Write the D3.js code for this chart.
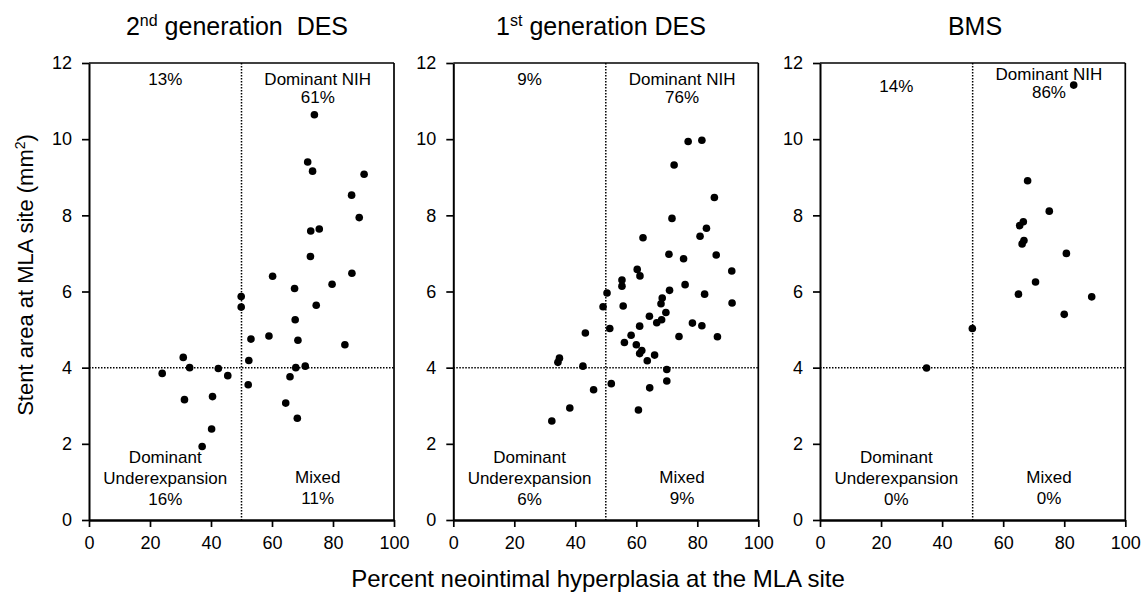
<!DOCTYPE html>
<html>
<head>
<meta charset="utf-8">
<script src="https://cdn.jsdelivr.net/npm/d3@7/dist/d3.min.js"></script>
<style>
  html, body { margin: 0; padding: 0; background: #fff; }
  svg { display: block; font-family: Arial, "Liberation Sans", sans-serif; }
  text { fill: #000; }
</style>
</head>
<body>
<svg id="chart" width="1146" height="598"></svg>
<script>
// ---------- data ----------
const xTicks = [0, 20, 40, 60, 80, 100];
const yTicks = [0, 2, 4, 6, 8, 10, 12];

const titles = [["2", "nd", " generation  DES"], ["1", "st", " generation DES"], ["BMS", "", ""]];

const des2X = [73.9, 71.7, 73.3, 90.2, 86.1, 88.6, 72.7, 75.5, 72.6, 60.2, 86.2, 67.4, 79.7, 49.9, 49.9, 74.5,
  67.6, 53.1, 59.0, 68.5, 83.9, 30.9, 52.4, 33.0, 42.4, 67.8, 70.9, 24.0, 45.5, 65.9, 52.2, 31.3, 40.5, 64.5, 68.3, 40.2, 37.1];
const des2Y = [10.64, 9.40, 9.16, 9.08, 8.53, 7.94, 7.59, 7.64, 6.92, 6.40, 6.48, 6.08, 6.19, 5.87, 5.59, 5.64,
  5.26, 4.75, 4.83, 4.72, 4.60, 4.27, 4.19, 4.00, 3.98, 4.00, 4.04, 3.85, 3.79, 3.76, 3.55, 3.16, 3.24, 3.07, 2.67, 2.39, 1.93];

const des1X = [77.0, 81.5, 72.4, 85.6, 71.7, 83.0, 80.9, 62.2, 70.7, 86.2, 75.5, 91.3, 60.3, 61.2, 55.3, 55.3, 76.0, 70.9,
  50.4, 82.4, 68.5, 68.1, 49.1, 55.7, 91.4, 69.7, 64.3, 68.3, 66.7, 78.4, 81.5, 43.3, 51.3, 61.1, 58.3, 74.0, 86.6, 56.1,
  60.0, 61.8, 61.1, 66.0, 63.6, 34.8, 34.3, 42.5, 70.0, 70.0, 51.8, 46.0, 64.4, 38.2, 60.7, 32.3];
const des1Y = [9.94, 9.97, 9.32, 8.47, 7.92, 7.66, 7.45, 7.41, 6.98, 6.96, 6.86, 6.54, 6.58, 6.41, 6.30, 6.14, 6.18, 6.03,
  5.96, 5.93, 5.83, 5.68, 5.60, 5.62, 5.70, 5.45, 5.35, 5.26, 5.18, 5.17, 5.10, 4.91, 5.03, 5.09, 4.85, 4.82, 4.81, 4.66,
  4.60, 4.45, 4.37, 4.33, 4.18, 4.25, 4.14, 4.04, 3.95, 3.65, 3.58, 3.42, 3.47, 2.94, 2.89, 2.60];

const bmsX = [83.1, 68.0, 75.1, 66.6, 65.4, 66.8, 66.2, 80.7, 70.6, 65.0, 89.0, 80.0, 49.9, 34.9];
const bmsY = [11.42, 8.91, 8.11, 7.83, 7.73, 7.34, 7.25, 7.00, 6.25, 5.93, 5.86, 5.40, 5.03, 3.99];

// quadrant labels: upper-left, upper-right (2 lines), lower-left (3 lines), lower-right (2 lines)
const quadUL = ["13%", "9%", "14%"];
const quadUR = [["Dominant NIH", "61%"], ["Dominant NIH", "76%"], ["Dominant NIH", "86%"]];
const quadLL = [["Dominant", "Underexpansion", "16%"], ["Dominant", "Underexpansion", "6%"], ["Dominant", "Underexpansion", "0%"]];
const quadLR = [["Mixed", "11%"], ["Mixed", "9%"], ["Mixed", "0%"]];

const xLabel = "Percent neointimal hyperplasia at the MLA site";
const yLabel = ["Stent area at MLA site (mm", "2", ")"];

// ---------- layout ----------
const plotTop = 63, plotBottom = 520;
const layout = [
  { left: 89, right: 394, titleX: 237, ulDy: 0, urDy: 0 },
  { left: 453.3, right: 758.3, titleX: 601, ulDy: 0, urDy: 0 },
  { left: 820, right: 1125.3, titleX: 975, ulDy: 7, urDy: -5 }
];
const series = [[des2X, des2Y], [des1X, des1Y], [bmsX, bmsY]];

const svg = d3.select("#chart");
const y = d3.scaleLinear().domain([0, 12]).range([plotBottom, plotTop]);

layout.forEach((L, i) => {
  const x = d3.scaleLinear().domain([0, 100]).range([L.left, L.right]);
  const g = svg.append("g");

  // title
  const t = g.append("text").attr("x", L.titleX).attr("y", 35)
    .attr("text-anchor", "middle").style("font-size", "25px").style("white-space", "pre");
  t.append("tspan").text(titles[i][0]);
  if (titles[i][1]) {
    t.append("tspan").text(titles[i][1]).style("font-size", "16px").attr("dy", -9);
    t.append("tspan").text(titles[i][2]).attr("dy", 9);
  }

  // dotted reference lines
  g.append("line").attr("x1", x(50)).attr("x2", x(50)).attr("y1", y(12)).attr("y2", y(0))
    .attr("stroke", "#000").attr("stroke-width", 1.5).attr("stroke-dasharray", "1.5,1.5");
  g.append("line").attr("x1", x(0)).attr("x2", x(100)).attr("y1", y(4)).attr("y2", y(4))
    .attr("stroke", "#000").attr("stroke-width", 1.5).attr("stroke-dasharray", "1.5,1.5");

  // frame top / right
  g.append("line").attr("x1", x(0)).attr("x2", x(100)).attr("y1", y(12)).attr("y2", y(12))
    .attr("stroke", "#000").attr("stroke-width", 1.7);
  g.append("line").attr("x1", x(100)).attr("x2", x(100)).attr("y1", y(12)).attr("y2", y(0))
    .attr("stroke", "#000").attr("stroke-width", 1.7);

  // axes
  const ax = g.append("g").attr("transform", `translate(0,${plotBottom})`)
    .call(d3.axisBottom(x).tickValues(xTicks).tickSize(7).tickSizeOuter(0).tickPadding(9));
  const ay = g.append("g").attr("transform", `translate(${L.left},0)`)
    .call(d3.axisLeft(y).tickValues(yTicks).tickSize(7).tickSizeOuter(0).tickPadding(10));
  ax.select(".domain").attr("stroke-width", 2.5);
  ay.select(".domain").attr("stroke-width", 2);
  [ax, ay].forEach(a => {
    a.selectAll(".tick line").attr("stroke-width", 1.7);
    a.selectAll(".tick text").style("font-size", "18px").style("font-family", "Arial, 'Liberation Sans', sans-serif").attr("fill", "#000");
  });

  // quadrant labels
  const qs = { "text-anchor": "middle" };
  const lab = (tx, ty, s) => g.append("text").attr("x", tx).attr("y", ty).attr("text-anchor", "middle")
    .style("font-size", "17px").text(s);
  lab(x(25), plotTop + 22 + L.ulDy, quadUL[i]);
  lab(x(75), plotTop + 22 + L.urDy, quadUR[i][0]);
  lab(x(75), plotTop + 40 + L.urDy, quadUR[i][1]);
  quadLL[i].forEach((s, k) => lab(x(25), plotBottom - 57 + k * 21, s));
  quadLR[i].forEach((s, k) => lab(x(75), plotBottom - 37 + k * 21, s));

  // points
  const [xs, ys] = series[i];
  g.selectAll("circle.pt").data(xs.map((d, k) => [d, ys[k]])).enter().append("circle")
    .attr("class", "pt").attr("cx", d => x(d[0])).attr("cy", d => y(d[1])).attr("r", 3.8).attr("fill", "#000");
});

// axis titles
svg.append("text").attr("x", 598).attr("y", 587).attr("text-anchor", "middle")
  .style("font-size", "24px").text(xLabel);

const yt = svg.append("text").attr("transform", "translate(33,275) rotate(-90)")
  .attr("text-anchor", "middle").style("font-size", "22px");
yt.append("tspan").text(yLabel[0]);
yt.append("tspan").text(yLabel[1]).style("font-size", "14px").attr("dy", -8);
yt.append("tspan").text(yLabel[2]).attr("dy", 8);
</script>
</body>
</html>
